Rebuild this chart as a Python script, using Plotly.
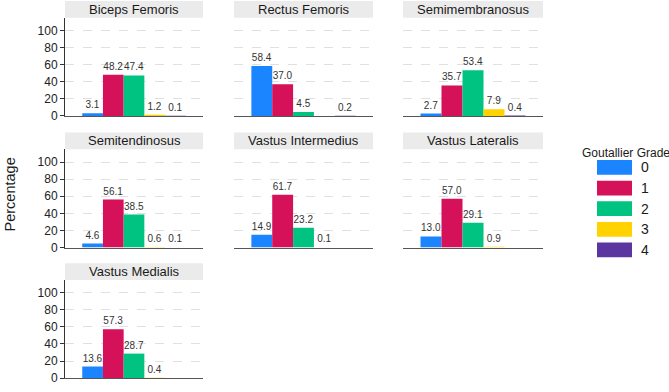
import plotly.graph_objects as go

W, H = 669, 392

muscles = ["Biceps Femoris", "Rectus Femoris", "Semimembranosus",
           "Semitendinosus", "Vastus Intermedius", "Vastus Lateralis",
           "Vastus Medialis"]
grades = ["0", "1", "2", "3", "4"]
grade_colors = ["#1A85FF", "#D41159", "#00C281", "#FFD200", "#5B35A0"]

biceps_femoris = [3.1, 48.2, 47.4, 1.2, 0.1]
rectus_femoris = [58.4, 37.0, 4.5, None, 0.2]
semimembranosus = [2.7, 35.7, 53.4, 7.9, 0.4]
semitendinosus = [4.6, 56.1, 38.5, 0.6, 0.1]
vastus_intermedius = [14.9, 61.7, 23.2, 0.1, None]
vastus_lateralis = [13.0, 57.0, 29.1, 0.9, None]
vastus_medialis = [13.6, 57.3, 28.7, 0.4, None]

series = [biceps_femoris, rectus_femoris, semimembranosus, semitendinosus,
          vastus_intermedius, vastus_lateralis, vastus_medialis]

y_ticks = [0, 20, 40, 60, 80, 100]

FONT = "Liberation Sans, Arial, Helvetica, sans-serif"

# layout geometry (pixels)
col_x = [(65, 203), (234, 373), (403, 543)]
row_y = [(18, 118), (152, 252), (285, 385)]
STRIP = 17

fig = go.Figure()
shapes = []
annotations = []

for k, (name, vals) in enumerate(zip(muscles, series)):
    r, c = divmod(k, 3)
    n = k + 1
    xa = "x" if n == 1 else f"x{n}"
    ya = "y" if n == 1 else f"y{n}"
    for g, col, v in zip(grades, grade_colors, vals):
        fig.add_trace(go.Bar(
            x=["grade"], y=[v],
            text=[f"{v:.1f}" if v is not None else ""],
            textposition="outside", cliponaxis=False, constraintext="none",
            textfont=dict(size=10, color="#333333", family=FONT),
            marker=dict(color=col, line=dict(width=0)),
            xaxis=xa, yaxis=ya, showlegend=False, name=g,
        ))
    x0, x1 = col_x[c]
    top, bot = row_y[r]
    xd = [x0 / W, x1 / W]
    yd = [1 - bot / H, 1 - top / H]
    xkey = "xaxis" if n == 1 else f"xaxis{n}"
    ykey = "yaxis" if n == 1 else f"yaxis{n}"
    fig.layout[xkey] = dict(
        domain=xd, anchor=ya, range=[-0.6, 0.6], showticklabels=False,
        ticks="", showgrid=False, zeroline=False, showline=True,
        linecolor="#555555", linewidth=1, fixedrange=True,
    )
    left = (c == 0)
    fig.layout[ykey] = dict(
        domain=yd, anchor=xa, range=[0, 115], tickvals=y_ticks,
        showticklabels=left, ticks="outside" if left else "",
        ticklen=4, tickcolor="#333333", tickwidth=1,
        tickfont=dict(size=12, color="#222222", family=FONT),
        showline=left, linecolor="#333333", linewidth=1,
        showgrid=True, gridcolor="#E0E0E0", griddash="dash", gridwidth=1,
        zeroline=False, fixedrange=True,
    )
    # facet strip
    shapes.append(dict(type="rect", xref="paper", yref="paper",
                       x0=x0 / W, x1=x1 / W,
                       y0=1 - top / H, y1=1 - (top - STRIP) / H,
                       fillcolor="#EBEBEB", line=dict(width=0), layer="below"))
    annotations.append(dict(text=name, xref="paper", yref="paper",
                            x=(x0 + x1) / 2 / W, y=1 - (top - STRIP / 2) / H,
                            xanchor="center", yanchor="middle", showarrow=False,
                            font=dict(size=13, color="#1A1A1A", family=FONT)))

# y-axis title
annotations.append(dict(text="Percentage", xref="paper", yref="paper",
                        x=10 / W, y=1 - 198 / H, textangle=-90,
                        xanchor="center", yanchor="middle", showarrow=False,
                        font=dict(size=14.5, color="#1A1A1A", family=FONT)))

# legend
annotations.append(dict(text="Goutallier Grade", xref="paper", yref="paper",
                        x=580 / W, y=1 - 156 / H, xanchor="left",
                        yanchor="middle", showarrow=False,
                        font=dict(size=12, color="#1A1A1A", family=FONT)))
for i, (g, col) in enumerate(zip(grades, grade_colors)):
    t = 163 + i * 21
    shapes.append(dict(type="rect", xref="paper", yref="paper",
                       x0=597 / W, x1=632 / W, y0=1 - (t + 15) / H,
                       y1=1 - t / H, fillcolor=col, line=dict(width=0)))
    annotations.append(dict(text=g, xref="paper", yref="paper",
                            x=639 / W, y=1 - (t + 7.5) / H, xanchor="left",
                            yanchor="middle", showarrow=False,
                            font=dict(size=14, color="#1A1A1A", family=FONT)))

fig.update_layout(
    width=W, height=H, margin=dict(l=0, r=0, t=0, b=0),
    paper_bgcolor="white", plot_bgcolor="white",
    barmode="group", bargap=0.1, bargroupgap=0,
    shapes=shapes, annotations=annotations,
    font=dict(family=FONT), showlegend=False,
)

fig.write_html(
    "out.html",
    config={"displayModeBar": False, "staticPlot": True},
    post_script="document.body.style.margin='0px';document.body.style.overflow='hidden';",
)
